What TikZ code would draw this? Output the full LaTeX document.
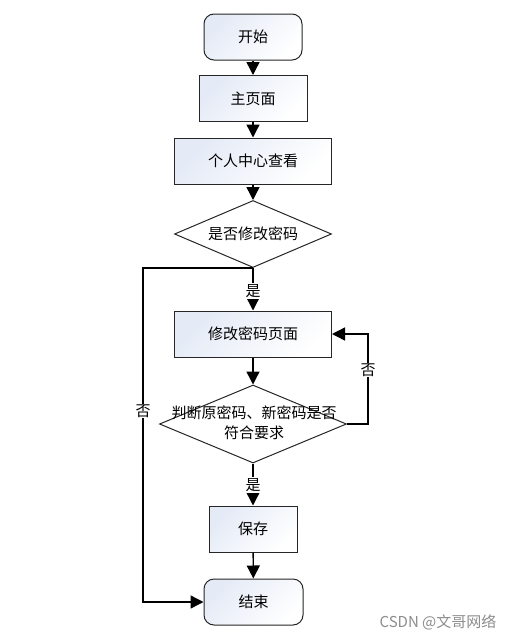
\documentclass[tikz,border=0pt]{standalone}
\usepackage{fontspec}
\setmainfont{Noto Sans CJK SC}
\usepackage{xcolor}
\usetikzlibrary{arrows.meta}
\usetikzlibrary{shapes.geometric}

\definecolor{boxshade}{RGB}{228,234,246}

\begin{document}
\begin{tikzpicture}[x=1pt,y=-1pt,
  every node/.style={font=\fontsize{15}{20}\selectfont},
  box/.style={draw=black!85,line width=1pt,top color=boxshade,bottom color=white,shading angle=45,minimum height=46pt},
  term/.style={box,rounded corners=10pt,minimum width=98pt},
  ask/.style={draw=black!85,line width=1pt,fill=white,shape=diamond,inner sep=0pt},
  lbl/.style={fill=white,inner sep=1pt},
  arr/.style={line width=1.4pt,-{Triangle[length=13pt,width=13pt]}}]
\useasboundingbox (0,0) rectangle (523,640);
%% boxes
\node[term] (start) at (253,37) {开始};
\node[box,minimum width=108pt] (home) at (253,98.5) {主页面};
\node[box,minimum width=157pt] (center) at (253,161) {个人中心查看};
\node[ask,minimum width=157pt,minimum height=67pt] (modify) at (253,234) {};
\node (modifytext) at (253,234) {是否修改密码};
\node[box,minimum width=157pt] (editpage) at (253,334) {修改密码页面};
\node[ask,minimum width=187pt,minimum height=78pt] (check) at (253,424) {};
\node[align=center] (checktext) at (254,423) {判断原密码、新密码是否\\符合要求};
\node[box,minimum width=88pt] (save) at (253,529) {保存};
\node[term,minimum width=99pt] (finish) at (253.5,602) {结束};
%% corners of the loops
\coordinate (leftturn) at (143,268);
\coordinate (rightturn) at (368,424);
%% connectors
\draw[arr] (start) -- (home);
\draw[arr] (home) -- (center);
\draw[arr] (center) -- (modify);
\draw[arr] (modify.south) -- (editpage);
\draw[arr] (editpage) -- (check);
\draw[arr] (check.south) -- (save);
\draw[arr] (save) -- (finish);
\draw[arr] (modify.south) -- (leftturn) |- (finish.west);
\draw[arr] (check.east) -- (rightturn) |- (editpage.east);
%% yes / no labels
\node[lbl] (yesmodify) at (253,291) {是};
\node[lbl] (yescheck) at (253,485) {是};
\node[lbl] (nomodify) at (143,411) {否};
\node[lbl] (nocheck) at (368,370) {否};
%% watermark
\node[text=black!45] (mark) at (438,622) {CSDN @文哥网络};
\end{tikzpicture}
\end{document}
